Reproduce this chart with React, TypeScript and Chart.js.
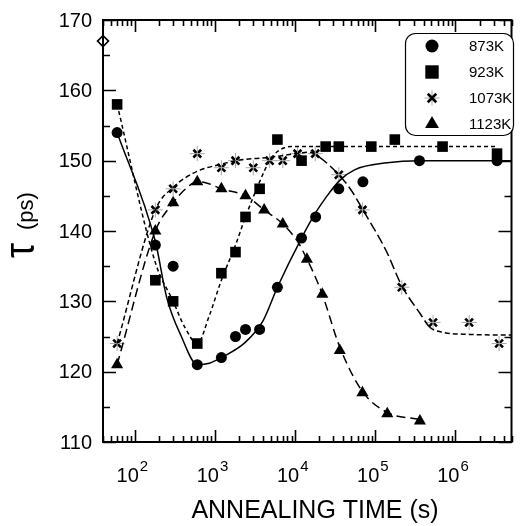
import React, { useEffect, useRef } from 'react';
import { Chart, registerables } from 'chart.js';
import { drawPoint } from 'chart.js/helpers';

Chart.register(...registerables);

// ---- measured points (annealing time in s, positron lifetime tau in ps) ----
const time873 = [60, 180, 300, 600, 1200, 1800, 2400, 3600, 6000, 12000, 18000, 35000, 70000, 355000, 3300000];
const tau873 = [154, 138, 135, 121, 122, 125, 126, 126, 132, 139, 142, 146, 147, 150, 150];

const time923 = [60, 180, 300, 600, 1200, 1800, 2400, 3600, 6000, 12000, 24000, 35000, 89000, 175000, 690000, 3300000];
const tau923 = [158, 133, 130, 124, 134, 137, 142, 146, 153, 150, 152, 152, 152, 153, 152, 151];

const time1073 = [60, 180, 300, 600, 1200, 1800, 3000, 4800, 7000, 10700, 17800, 35000, 69000, 214000, 525000, 1480000, 3500000];
const tau1073 = [124, 143, 146, 151, 149, 150, 149, 150, 150, 151, 151, 148, 143, 132, 127, 127, 124];

const time1123 = [60, 180, 300, 600, 1200, 2400, 4100, 7000, 14000, 21800, 36000, 69000, 141000, 360000];
const tau1123 = [121, 140, 144, 147, 146, 145, 143, 141, 136, 131, 123, 117, 114, 113];

const timeInitial = [40];
const tauInitial = [167];

// ---- fitted curves ----
const fitTime873 = [60, 180, 250, 380, 600, 850, 1200, 2400, 4000, 6000, 12000, 18000, 25000, 36000, 55000, 140000, 355000, 5000000];
const fitTau873 = [154, 138.5, 130.5, 125, 121, 121.2, 122, 124.2, 127.3, 132, 139, 142.6, 145, 147.2, 148.7, 149.7, 150, 150];

const fitTime923 = [60, 180, 300, 420, 600, 850, 1200, 1800, 2400, 3600, 4800, 6000, 9000, 3300000];
const fitTau923 = [158, 135.5, 130, 126.3, 124, 128, 133, 138, 142, 147, 150, 151.3, 152, 152];

const fitTime1073 = [60, 180, 300, 600, 1200, 1800, 5000, 10000, 15000, 20000, 35000, 50000, 70000, 135000, 214000, 360000, 480000, 700000, 1500000, 5000000];
const fitTau1073 = [124, 143, 146.2, 148.5, 149.5, 150, 150.5, 151, 151.2, 150.5, 148, 145.8, 143, 137.3, 132.2, 128.3, 126.3, 125.6, 125.3, 125.2];

const fitTime1123 = [60, 180, 300, 430, 600, 800, 1200, 2400, 4100, 7000, 11000, 14000, 17000, 21800, 36000, 69000, 141000, 360000];
const fitTau1123 = [121, 140, 144, 146, 147, 146.8, 146, 145, 143, 141, 138.3, 136, 134, 131, 123.5, 117.2, 114.2, 113.2];

const seriesLabels = ['873K', '923K', '1073K', '1123K'];
const yTicks = [110, 120, 130, 140, 150, 160, 170];
const xLabelExponents = [2, 3, 4, 5, 6];
const xTitle = 'ANNEALING TIME (s)';
const yTitleSymbol = 'τ';
const yTitleUnit = '(ps)';

const FONT = '"Liberation Sans", Arial, Helvetica, sans-serif';

const pts = (xs: number[], ys: number[]) => xs.map((x, i) => ({ x, y: ys[i] }));

const markerStyles: any[] = [
  { pointStyle: 'circle', radius: 6.5, borderWidth: 0 },
  { pointStyle: 'rect', radius: 9.5, borderWidth: 0 },
  { pointStyle: 'crossRot', radius: 6, borderWidth: 2.6 },
  { pointStyle: 'triangle', radius: 8, borderWidth: 0 },
];

const decorations = {
  id: 'decorations',
  afterDraw(chart: any) {
    const { ctx, chartArea } = chart;
    const { left, right, top, bottom } = chartArea;
    const xs = chart.scales.x;
    const ys = chart.scales.y;
    ctx.save();
    ctx.strokeStyle = '#000';
    ctx.fillStyle = '#000';
    // frame
    ctx.lineWidth = 2;
    ctx.strokeRect(left, top, right - left, bottom - top);
    // y ticks (both sides, inward)
    ctx.lineWidth = 1.6;
    for (let v = 110; v <= 170; v += 5) {
      const py = Math.round(ys.getPixelForValue(v)) + 0.5;
      const len = v % 10 === 0 ? 13 : 7;
      ctx.beginPath();
      ctx.moveTo(left, py);
      ctx.lineTo(left + len, py);
      ctx.moveTo(right, py);
      ctx.lineTo(right - len, py);
      ctx.stroke();
    }
    // y tick labels
    ctx.font = `20px ${FONT}`;
    ctx.textAlign = 'right';
    ctx.textBaseline = 'middle';
    for (const v of yTicks) {
      ctx.fillText(String(v), left - 11, ys.getPixelForValue(v) + 1);
    }
    // x ticks (top & bottom, inward)
    for (let d = 1; d <= 7; d++) {
      for (let m = 1; m <= 9; m++) {
        const v = m * Math.pow(10, d);
        if (v < xs.min || v > xs.max) continue;
        const px = Math.round(xs.getPixelForValue(v)) + 0.5;
        const len = m === 1 ? 12 : 6;
        ctx.beginPath();
        ctx.moveTo(px, bottom);
        ctx.lineTo(px, bottom - len);
        ctx.moveTo(px, top);
        ctx.lineTo(px, top + len);
        ctx.stroke();
      }
    }
    // x tick labels with superscripts
    ctx.textBaseline = 'alphabetic';
    ctx.textAlign = 'left';
    for (const e of xLabelExponents) {
      const px = xs.getPixelForValue(Math.pow(10, e));
      ctx.font = `20px ${FONT}`;
      const w1 = ctx.measureText('10').width;
      ctx.font = `15px ${FONT}`;
      const w2 = ctx.measureText(String(e)).width;
      const x0 = px - (w1 + w2) / 2 - 3;
      ctx.font = `20px ${FONT}`;
      ctx.fillText('10', x0, 482);
      ctx.font = `15px ${FONT}`;
      ctx.fillText(String(e), x0 + w1 + 1, 471);
    }
    // x title
    ctx.font = `25px ${FONT}`;
    ctx.textAlign = 'center';
    ctx.fillText(xTitle, 315, 518);
    // y title (rotated)
    ctx.save();
    ctx.translate(34, 258);
    ctx.rotate(-Math.PI / 2);
    ctx.textAlign = 'left';
    ctx.font = `42px ${FONT}`;
    const tw = ctx.measureText(yTitleSymbol).width;
    ctx.save();
    ctx.scale(15 / tw, 1);
    ctx.fillText(yTitleSymbol, 0, 0);
    ctx.restore();
    ctx.font = `22px ${FONT}`;
    ctx.fillText(yTitleUnit, 28, -1);
    ctx.restore();
    // legend box
    ctx.lineWidth = 1.2;
    ctx.beginPath();
    ctx.roundRect(405.5, 33.5, 108, 102, 10);
    ctx.fillStyle = '#fff';
    ctx.fill();
    ctx.stroke();
    ctx.fillStyle = '#000';
    const ly = [46, 72, 98, 124];
    seriesLabels.forEach((lab, i) => {
      const st = markerStyles[i];
      if (i === 2) {
        ctx.strokeStyle = '#aaa';
        ctx.lineWidth = 1;
        drawPoint(ctx, { pointStyle: 'cross', radius: 7.5, borderWidth: 1, rotation: 0 } as any, 432, ly[i]);
      }
      ctx.strokeStyle = '#000';
      ctx.fillStyle = '#000';
      ctx.lineWidth = st.borderWidth;
      drawPoint(ctx, { pointStyle: st.pointStyle, radius: st.radius, borderWidth: st.borderWidth, rotation: 0 } as any, 432, ly[i]);
      ctx.fillStyle = '#000';
      ctx.font = `15px ${FONT}`;
      ctx.textAlign = 'left';
      ctx.textBaseline = 'middle';
      ctx.fillText(lab, 469, ly[i] + 1);
    });
    ctx.restore();
  },
};

export default function App() {
  const ref = useRef<HTMLCanvasElement>(null);
  useEffect(() => {
    const canvas = ref.current!;
    const curve = (xs: number[], ys: number[], dash: number[] | null, extra: any = {}) => ({
      data: pts(xs, ys),
      showLine: true,
      pointRadius: 0,
      borderColor: '#000',
      borderWidth: 1.5,
      borderDash: dash || [],
      cubicInterpolationMode: 'monotone',
      fill: false,
      ...extra,
    });
    const points = (xs: number[], ys: number[], style: string, radius: number, extra: any = {}) => ({
      data: pts(xs, ys),
      showLine: false,
      pointStyle: style,
      pointRadius: radius,
      backgroundColor: '#000',
      borderColor: '#000',
      borderWidth: 0,
      clip: false,
      ...extra,
    });
    const chart = new Chart(canvas, {
      type: 'scatter',
      data: {
        datasets: [
          curve(fitTime873, fitTau873, null),
          curve(fitTime923, fitTau923, [4, 3]),
          curve(fitTime1073, fitTau1073, [5, 3], {
            segment: {
              borderDash: (c: any) =>
                c.p0.parsed.x >= 18000 && c.p1.parsed.x <= 480000 ? [10, 4] : [5, 3],
            },
          }),
          curve(fitTime1123, fitTau1123, [9, 5]),
          points(time873, tau873, 'circle', 5.5),
          points(time923, tau923, 'rect', 7.5),
          points(time1073, tau1073, 'cross', 7.5, { borderColor: '#aaa', borderWidth: 1 }),
          points(time1073, tau1073, 'crossRot', 5.5, { borderWidth: 2.6 }),
          points(time1123, tau1123, 'triangle', 7),
          points(timeInitial, tauInitial, 'rectRot', 5.5, { backgroundColor: '#fff', borderWidth: 1.6 }),
        ] as any,
      },
      options: {
        responsive: false,
        maintainAspectRatio: false,
        animation: false,
        layout: { padding: { top: 20, right: 1, left: 0, bottom: 0 } },
        plugins: { legend: { display: false }, tooltip: { enabled: false } },
        events: [],
        scales: {
          x: {
            type: 'logarithmic',
            min: 40,
            max: 5000000,
            ticks: { display: false },
            grid: { display: false },
            border: { display: false },
            afterFit: (s: any) => {
              s.height = 84;
            },
          },
          y: {
            type: 'linear',
            min: 110,
            max: 170,
            ticks: { display: false, stepSize: 10 },
            grid: { display: false, drawTicks: false },
            border: { display: false },
            afterFit: (s: any) => {
              s.width = 103;
            },
          },
        },
      } as any,
      plugins: [decorations],
    });
    return () => chart.destroy();
  }, []);
  return (
    <div style={{ position: 'fixed', left: 0, top: 0, width: 520, height: 526, background: '#fff' }}>
      <canvas ref={ref} width={520} height={526} style={{ display: 'block', width: 520, height: 526 }} />
    </div>
  );
}
